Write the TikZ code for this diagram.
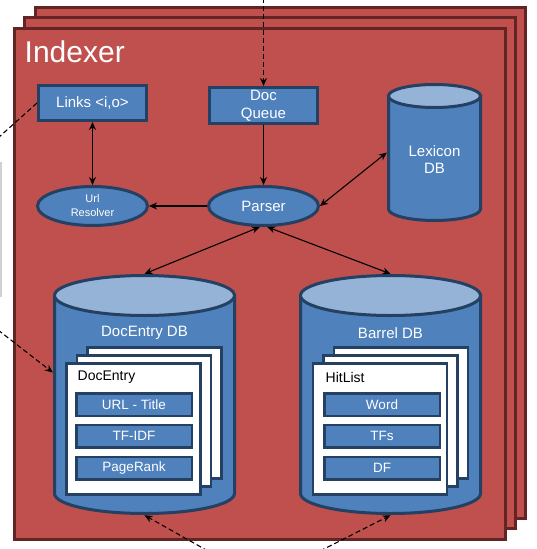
\documentclass[tikz,border=0pt]{standalone}
\usepackage{fontspec}
\setmainfont{Liberation Sans}
\usetikzlibrary{arrows.meta,shapes.geometric}

\definecolor{idxred}{RGB}{192,80,77}
\definecolor{idxredline}{RGB}{99,37,35}
\definecolor{idxblue}{RGB}{79,129,189}
\definecolor{idxblueline}{RGB}{36,64,98}
\definecolor{idxtop}{RGB}{149,179,215}

\tikzset{
  frame/.style={fill=idxred, draw=idxredline, line width=3pt},
  bluebox/.style={rectangle, fill=idxblue, draw=idxblueline, line width=3pt,
    text=white, align=center, inner sep=0pt, font=\fontsize{15}{18}\selectfont},
  blueoval/.style={ellipse, fill=idxblue, draw=idxblueline, line width=3pt,
    text=white, align=center, inner sep=0pt, minimum width=110pt, minimum height=39pt},
  dbarea/.style={rectangle, inner sep=0pt},
  dbbody/.style={fill=idxblue, draw=idxblueline, line width=3pt},
  dbtop/.style={fill=idxtop, draw=idxblueline, line width=3pt},
  dblabel/.style={text=white, align=center, inner sep=0pt, font=\fontsize{15}{17}\selectfont},
  page/.style={rectangle, fill=white, draw=idxblueline, line width=2.5pt,
    inner sep=0pt, minimum width=134pt, minimum height=131pt},
  pagetitle/.style={anchor=west, inner sep=0pt, font=\fontsize{14}{16}\selectfont},
  field/.style={bluebox, line width=2.5pt, minimum width=115.5pt, minimum height=22.5pt,
    font=\fontsize{13.5}{16}\selectfont},
  link/.style={draw=black, line width=1.1pt, >={Stealth[length=8pt,width=7pt]}},
  flow/.style={link, dash pattern=on 5pt off 3pt}
}

% cylinder: centre x, top centre y, bottom centre y, x radius, y radius
\newcommand{\dbcylinder}[5]{%
  \filldraw[dbbody] (#1-#4,#2) -- (#1-#4,#3)
    arc[start angle=180, end angle=360, x radius=#4pt, y radius=#5pt] -- (#1+#4,#2) -- cycle;
  \filldraw[dbtop] (#1,#2) ellipse[x radius=#4pt, y radius=#5pt];
}

\begin{document}
\begin{tikzpicture}[x=1pt,y=1pt]
\useasboundingbox (0,0) rectangle (536,-549);

% Drawing stacked indexer frames
\foreach \k in {2,1,0}
  \draw[frame] (14.5+10.3*\k,-28+10.3*\k) rectangle (505+10.3*\k,-539+10.3*\k);
\node[anchor=base west, inner sep=0pt, text=white, font=\fontsize{30}{32}\selectfont]
  (title) at (24.5,-62) {Indexer};

% Drawing boxes and ovals
\node[bluebox, minimum width=108pt, minimum height=35pt] (links) at (92.5,-103) {Links <i,o>};
\node[bluebox, minimum width=108pt, minimum height=36pt] (docqueue) at (263.5,-105.5) {Doc\\Queue};
\node[blueoval, font=\fontsize{11}{14}\selectfont] (urlres) at (92.5,-206) {Url\\Resolver};
\node[blueoval, font=\fontsize{15}{17}\selectfont] (parser) at (263.5,-206) {Parser};

% Drawing Lexicon DB
\node[dbarea, minimum width=95pt, minimum height=139pt] (lexicon) at (434.5,-152.5) {};
\dbcylinder{434.5}{-96}{-209}{46}{11.5}
\node[dblabel] (lexicontxt) at (434.5,-159.5) {Lexicon\\DB};

% Drawing DocEntry DB
\node[dbarea, minimum width=183pt, minimum height=241pt] (docdb) at (144.5,-394.5) {};
\dbcylinder{144.5}{-295.5}{-493.5}{90}{20}
\node[dblabel] (docdbtxt) at (144.5,-333) {DocEntry DB};
\foreach \k in {2,1}
  \node[page] (docpage\k) at (133.5+10.5*\k,-429+8*\k) {};
\node[page] (docpage) at (133.5,-429) {};
\node[pagetitle] (doctitle) at (77.5,-377) {DocEntry};
\node[field] (urltitle) at (134,-404.5) {URL - Title};
\node[field] (tfidf) at (134,-436) {TF-IDF};
\node[field] (pagerank) at (134,-468) {PageRank};

% Drawing Barrel DB
\node[dbarea, minimum width=183pt, minimum height=241pt] (barreldb) at (390.5,-394.5) {};
\dbcylinder{390.5}{-295.5}{-493.5}{90}{20}
\node[dblabel] (barreldbtxt) at (390.5,-333) {Barrel DB};
\foreach \k in {2,1}
  \node[page] (hitpage\k) at (380+10.5*\k,-429+8*\k) {};
\node[page] (hitpage) at (380,-429) {};
\node[pagetitle] (hittitle) at (325.5,-377) {HitList};
\node[field] (word) at (382,-404.5) {Word};
\node[field] (tfs) at (382,-436) {TFs};
\node[field] (df) at (382,-468) {DF};

% Drawing connectors
\draw[link,<->] (links) -- (urlres);
\draw[link,->] (docqueue) -- (parser);
\draw[link,->] (parser) -- (urlres);
\draw[link,<->] (parser.east) -- (lexicon.west);
\draw[link,<->] (parser.-100) -- (docdb.north);
\draw[link,<->] (parser.-80) -- (barreldb.north);

% Drawing dashed flows from outside
\coordinate (intop) at (263.5,2);
\coordinate (linksout) at (-2,-138);
\coordinate (docin) at (-2,-330);
\coordinate (docbot) at (208,-551);
\coordinate (barrelbot) at (320,-551);
\draw[flow,->] (intop) -- (docqueue);
\draw[flow] (links.west) -- (linksout);
\draw[flow,->] (docin) -- ([yshift=22pt]docdb.west);
\draw[flow,->] (docbot) -- (docdb.south);
\draw[flow,->] (barrelbot) -- (barreldb.south);
\draw[black!18, line width=1.5pt] (0.75,-162) -- (0.75,-297);
\end{tikzpicture}
\end{document}
